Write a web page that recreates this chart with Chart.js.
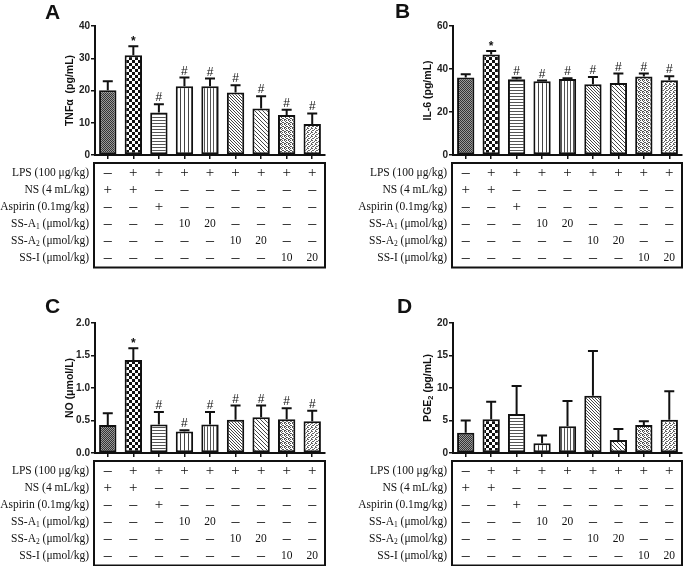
<!DOCTYPE html>
<html><head><meta charset="utf-8">
<script src="https://cdn.jsdelivr.net/npm/chart.js@4.4.1/dist/chart.umd.min.js"></script>
<style>
html,body{margin:0;padding:0;background:#fff;overflow:hidden;}
#wrap{position:relative;width:685px;height:566px;background:#fff;}
canvas{position:absolute;}
</style></head><body>
<div id="wrap">
<canvas id="cA" width="342" height="283" style="left:0px;top:0px"></canvas>
<canvas id="cB" width="343" height="283" style="left:342px;top:0px"></canvas>
<canvas id="cC" width="342" height="283" style="left:0px;top:283px"></canvas>
<canvas id="cD" width="343" height="283" style="left:342px;top:283px"></canvas>
</div>
<script>
// ---------- data ----------
const categories = ['NS', 'LPS', 'Aspirin', 'SS-A1 10', 'SS-A1 20', 'SS-A2 10', 'SS-A2 20', 'SS-I 10', 'SS-I 20'];

const tnfMean = [20.1, 30.9, 13.2, 21.3, 21.3, 19.4, 14.4, 12.4, 9.6];
const tnfErr  = [2.8, 2.8, 2.5, 2.7, 2.4, 2.2, 3.8, 1.6, 3.3];
const tnfMarks = ['', '*', '#', '#', '#', '#', '#', '#', '#'];

const il6Mean = [36.0, 46.7, 35.2, 34.3, 35.4, 32.9, 33.5, 36.5, 34.8];
const il6Err  = [1.6, 1.7, 0.7, 0.3, 0.3, 3.4, 4.4, 1.4, 1.8];
const il6Marks = ['', '*', '#', '#', '#', '#', '#', '#', '#'];

const noMean = [0.43, 1.43, 0.44, 0.33, 0.44, 0.51, 0.55, 0.52, 0.49];
const noErr  = [0.18, 0.18, 0.19, 0.02, 0.19, 0.22, 0.18, 0.17, 0.16];
const noMarks = ['', '*', '#', '#', '#', '#', '#', '#', '#'];

const pgeMean = [3.1, 5.2, 6.0, 1.5, 4.1, 8.8, 2.0, 4.3, 5.1];
const pgeErr  = [1.9, 2.7, 4.3, 1.2, 3.9, 6.9, 1.7, 0.6, 4.4];
const pgeMarks = ['', '', '', '', '', '', '', '', ''];

const tnfTicks = [0, 10, 20, 30, 40];
const il6Ticks = [0, 20, 40, 60];
const noTicks  = [0.0, 0.5, 1.0, 1.5, 2.0];
const pgeTicks = [0, 5, 10, 15, 20];

const rowLabels = ['LPS (100 μg/kg)', 'NS (4 mL/kg)', 'Aspirin (0.1mg/kg)', 'SS-A₁ (μmol/kg)', 'SS-A₂ (μmol/kg)', 'SS-I (μmol/kg)'];
const rowLPS  = ['–', '+', '+', '+', '+', '+', '+', '+', '+'];
const rowNS   = ['+', '+', '–', '–', '–', '–', '–', '–', '–'];
const rowAsp  = ['–', '–', '+', '–', '–', '–', '–', '–', '–'];
const rowSSA1 = ['–', '–', '–', '10', '20', '–', '–', '–', '–'];
const rowSSA2 = ['–', '–', '–', '–', '–', '10', '20', '–', '–'];
const rowSSI  = ['–', '–', '–', '–', '–', '–', '–', '10', '20'];
const tableRows = [rowLPS, rowNS, rowAsp, rowSSA1, rowSSA2, rowSSI];

// ---------- styling helpers ----------
const SANS = '"Liberation Sans", Arial, "DejaVu Sans", sans-serif';
const SERIF = '"Liberation Serif", "Times New Roman", "DejaVu Serif", serif';

function makePattern(w, h, draw) {
  const c = document.createElement('canvas');
  c.width = w; c.height = h;
  const g = c.getContext('2d');
  g.fillStyle = '#fff'; g.fillRect(0, 0, w, h);
  draw(g);
  return g.createPattern(c, 'repeat');
}
function px(g, col, pts) { g.fillStyle = col; pts.forEach(p => g.fillRect(p[0], p[1], 1, 1)); }

const patterns = [
  makePattern(2, 2, g => { g.fillStyle = '#9a9a9a'; g.fillRect(0,0,2,2); px(g, '#333', [[0,0],[1,1]]); }),
  makePattern(6, 6, g => { g.fillStyle = '#111'; g.fillRect(0,0,3,3); g.fillRect(3,3,3,3); }),
  makePattern(1, 3, g => { g.fillStyle = '#555'; g.fillRect(0,0,1,1); }),
  makePattern(4, 1, g => { g.fillStyle = '#444'; g.fillRect(0,0,1,1); }),
  makePattern(3, 1, g => { g.fillStyle = '#555'; g.fillRect(0,0,1,1); }),
  makePattern(3, 3, g => { px(g, '#444', [[0,0],[1,1],[2,2]]); }),
  makePattern(4, 4, g => { px(g, '#444', [[0,0],[1,1],[2,2],[3,3]]); }),
  makePattern(4, 4, g => { px(g, '#555', [[0,0],[2,0],[1,1],[3,2],[0,3],[2,2],[1,3]]); }),
  makePattern(4, 4, g => { px(g, '#666', [[0,0],[2,1],[1,2],[3,3],[3,0],[0,2]]); })
];

const SUB = {'₀':'0','₁':'1','₂':'2','₃':'3','₄':'4','₅':'5','₆':'6','₇':'7','₈':'8','₉':'9'};
function richParts(str) {
  const parts = [];
  for (const ch of str) {
    const sub = ch in SUB;
    const t = sub ? SUB[ch] : ch;
    const last = parts[parts.length - 1];
    if (last && last.sub === sub) last.t += t; else parts.push({t, sub});
  }
  return parts;
}
function drawRich(ctx, str, x, y, font, subFont, subShift, align) {
  const parts = richParts(str);
  let w = 0;
  parts.forEach(p => { ctx.font = p.sub ? subFont : font; p.w = ctx.measureText(p.t).width; w += p.w; });
  let cx = align === 'right' ? x - w : align === 'center' ? x - w / 2 : x;
  ctx.textAlign = 'left';
  parts.forEach(p => { ctx.font = p.sub ? subFont : font; ctx.fillText(p.t, cx, y + (p.sub ? subShift : 0)); cx += p.w; });
}

// ---------- plugins ----------
const extrasPlugin = {
  id: 'extras',
  afterDatasetsDraw(chart, args, o) {
    const {ctx, chartArea, scales: {x, y}} = chart;
    const meta = chart.getDatasetMeta(0);
    ctx.save();
    ctx.strokeStyle = '#111'; ctx.lineWidth = 2;
    o.err.forEach((e, i) => {
      const bar = meta.data[i];
      const x0 = bar.x;
      const yTop = y.getPixelForValue(o.mean[i] + e);
      const yBar = y.getPixelForValue(o.mean[i]);
      ctx.beginPath();
      ctx.moveTo(x0, yBar); ctx.lineTo(x0, yTop);
      ctx.moveTo(x0 - 5, yTop); ctx.lineTo(x0 + 5, yTop);
      ctx.stroke();
      const m = o.marks[i];
      if (m) {
        ctx.fillStyle = '#111';
        ctx.textAlign = 'center'; ctx.textBaseline = 'alphabetic';
        ctx.font = m === '*' ? 'bold 12px ' + SANS : '12px ' + SANS;
        ctx.fillText(m, x0, yTop - (m === '*' ? 1 : 3));
      }
    });
    ctx.restore();
  },
  afterDraw(chart, args, o) {
    const {ctx, chartArea, scales: {x}} = chart;
    ctx.save();
    ctx.fillStyle = '#111';
    ctx.font = 'bold 21px ' + SANS;
    ctx.textAlign = 'left'; ctx.textBaseline = 'alphabetic';
    ctx.fillText(o.letter, o.letterX, o.letterY);
    ctx.save();
    ctx.translate(chartArea.left - 25, (chartArea.top + chartArea.bottom) / 2);
    ctx.rotate(-Math.PI / 2);
    ctx.textBaseline = 'middle';
    drawRich(ctx, o.yTitle, 0, 0, 'bold 10.5px ' + SANS, 'bold 7.5px ' + SANS, 3, 'center');
    ctx.restore();
    const top = chartArea.bottom + 8, bottom = chartArea.bottom + 112.5;
    ctx.strokeStyle = '#111'; ctx.lineWidth = 2;
    ctx.strokeRect(chartArea.left - 1, top, chartArea.right - chartArea.left + 1, bottom - top);
    ctx.textBaseline = 'middle';
    tableRows.forEach((row, r) => {
      const yy = top + 9.6 + r * 17.1;
      drawRich(ctx, rowLabels[r], chartArea.left - 6, yy, '11.5px ' + SERIF, '7.5px ' + SERIF, 3, 'right');
      row.forEach((v, i) => {
        const cx = x.getPixelForValue(i);
        ctx.textAlign = 'center';
        if (v === '+') { ctx.font = '15px ' + SERIF; ctx.fillText(v, cx, yy); }
        else if (v === '–') { ctx.font = '16px ' + SERIF; ctx.fillText(v, cx, yy); }
        else { ctx.font = '11.5px ' + SERIF; ctx.fillText(v, cx, yy); }
      });
    });
    ctx.restore();
  }
};

function makeChart(id, mean, err, marks, ticks, yTitle, letter, letterX, letterY, pad, fmt) {
  const ymax = ticks[ticks.length - 1];
  const step = ticks[1] - ticks[0];
  return new Chart(document.getElementById(id), {
    type: 'bar',
    data: {
      labels: categories,
      datasets: [{
        data: mean,
        backgroundColor: patterns,
        borderColor: '#111',
        borderWidth: 2,
        borderSkipped: false,
        barPercentage: 0.68,
        categoryPercentage: 1.0
      }]
    },
    options: {
      responsive: false,
      animation: false,
      devicePixelRatio: 1,
      layout: { padding: pad },
      plugins: {
        legend: { display: false },
        tooltip: { enabled: false },
        extras: { mean, err, marks, yTitle, letter, letterX, letterY }
      },
      scales: {
        x: {
          offset: true,
          grid: { display: true, offset: false, drawOnChartArea: false, drawTicks: true, tickLength: 4, color: '#111', lineWidth: 1.5 },
          border: { display: true, color: '#111', width: 2 },
          ticks: { display: false },
          afterFit: s => { s.height = 6; }
        },
        y: {
          min: 0, max: ymax,
          grid: { display: true, drawOnChartArea: false, drawTicks: true, tickLength: 4, color: '#111', lineWidth: 1.5 },
          border: { display: true, color: '#111', width: 2 },
          ticks: {
            stepSize: step, padding: 1, color: '#222',
            font: { family: SANS, size: 10, weight: 'bold' },
            callback: v => fmt(v)
          },
          title: { display: false },
          afterFit: s => { s.width = 35; }
        }
      }
    },
    plugins: [extrasPlugin]
  });
}

const intFmt = v => String(v);
const decFmt = v => Number(v).toFixed(1);

makeChart('cA', tnfMean, tnfErr, tnfMarks, tnfTicks, 'TNFα  (pg/mL)', 'A', 45, 19,
  {left: 60, top: 26, right: 17, bottom: 122}, intFmt);
makeChart('cB', il6Mean, il6Err, il6Marks, il6Ticks, 'IL-6 (pg/mL)', 'B', 53, 18,
  {left: 76, top: 26, right: 3, bottom: 122}, intFmt);
makeChart('cC', noMean, noErr, noMarks, noTicks, 'NO (μmol/L)', 'C', 45, 30,
  {left: 60, top: 40, right: 17, bottom: 107}, decFmt);
makeChart('cD', pgeMean, pgeErr, pgeMarks, pgeTicks, 'PGE₂ (pg/mL)', 'D', 55, 30,
  {left: 76, top: 40, right: 3, bottom: 107}, intFmt);
</script>
</body></html>
